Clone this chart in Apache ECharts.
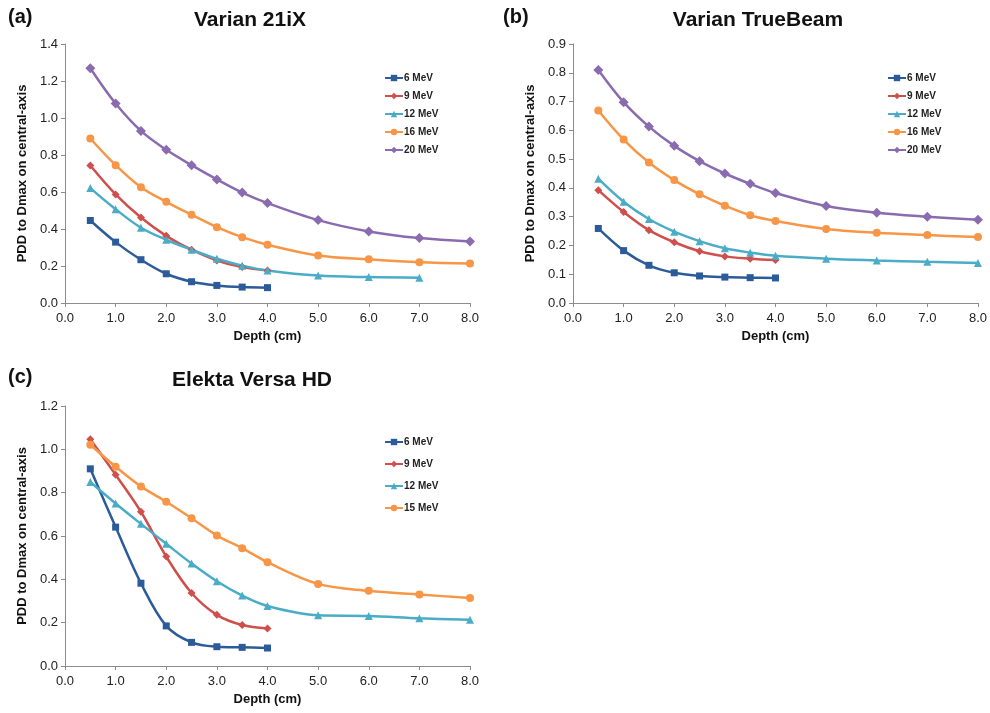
<!DOCTYPE html>
<html>
<head>
<meta charset="utf-8">
<script src="https://cdn.jsdelivr.net/npm/echarts@6/dist/echarts.min.js"></script>
<style>
  body { margin: 0; background: #fff; }
  .panel { position: absolute; }
</style>
</head>
<body>
<div id="chartA" class="panel" style="left:0;top:0;width:495px;height:350px;"></div>
<div id="chartB" class="panel" style="left:495px;top:0;width:495px;height:350px;"></div>
<div id="chartC" class="panel" style="left:0;top:360px;width:495px;height:353px;"></div>
<script>
// depths (cm)
var depthShort = [0.5, 1.0, 1.5, 2.0, 2.5, 3.0, 3.5, 4.0];
var depthMid = [0.5, 1.0, 1.5, 2.0, 2.5, 3.0, 3.5, 4.0, 5.0, 6.0, 7.0];
var depthLong = [0.5, 1.0, 1.5, 2.0, 2.5, 3.0, 3.5, 4.0, 5.0, 6.0, 7.0, 8.0];

// (a) Varian 21iX
var a6 = [0.446, 0.329, 0.234, 0.158, 0.115, 0.095, 0.086, 0.083];
var a9 = [0.743, 0.587, 0.462, 0.363, 0.288, 0.230, 0.194, 0.176];
var a12 = [0.621, 0.507, 0.407, 0.342, 0.288, 0.239, 0.202, 0.176, 0.148, 0.140, 0.137];
var a16 = [0.889, 0.745, 0.626, 0.547, 0.477, 0.410, 0.356, 0.315, 0.257, 0.236, 0.220, 0.214];
var a20 = [1.269, 1.078, 0.930, 0.828, 0.745, 0.668, 0.597, 0.540, 0.448, 0.387, 0.351, 0.333];

// (b) Varian TrueBeam
var b6 = [0.259, 0.182, 0.131, 0.105, 0.094, 0.090, 0.088, 0.087];
var b9 = [0.392, 0.316, 0.253, 0.211, 0.180, 0.162, 0.154, 0.149];
var b12 = [0.432, 0.352, 0.292, 0.248, 0.215, 0.190, 0.175, 0.164, 0.154, 0.148, 0.143, 0.139];
var b16 = [0.669, 0.568, 0.488, 0.427, 0.378, 0.338, 0.305, 0.285, 0.257, 0.244, 0.236, 0.229];
var b20 = [0.810, 0.698, 0.613, 0.546, 0.493, 0.450, 0.414, 0.382, 0.337, 0.314, 0.300, 0.289];

// (c) Elekta Versa HD
var c6 = [0.910, 0.641, 0.382, 0.185, 0.109, 0.089, 0.086, 0.083];
var c9 = [1.047, 0.883, 0.712, 0.505, 0.337, 0.236, 0.189, 0.173];
var c12 = [0.849, 0.750, 0.656, 0.564, 0.473, 0.391, 0.325, 0.277, 0.234, 0.231, 0.220, 0.213];
var c15 = [1.021, 0.920, 0.829, 0.758, 0.682, 0.602, 0.544, 0.479, 0.379, 0.347, 0.330, 0.314];

var colors = {
  blue: '#2c5b9a',
  red: '#cf4f4c',
  aqua: '#4aacc6',
  orange: '#f79646',
  purple: '#8a6bb0'
};

function pairs(xs, ys) {
  return ys.map(function (v, i) { return [xs[i], v]; });
}

function line(name, xs, ys, color, symbol, size) {
  return {
    name: name,
    type: 'line',
    smooth: 0.35,
    data: pairs(xs, ys),
    symbol: symbol,
    symbolSize: size,
    showSymbol: true,
    lineStyle: { color: color, width: 2.5 },
    itemStyle: { color: color },
    emphasis: { disabled: true },
    z: 2
  };
}

function makeOption(tag, title, titleX, grid, yMax, yStep, legendPos, legendGap, series) {
  return {
    animation: false,
    textStyle: { fontFamily: 'Liberation Sans, Arial, sans-serif' },
    title: [
      { text: tag, left: 8, top: 7, padding: 0, textStyle: { fontSize: 20, fontWeight: 'bold', color: '#111' } },
      { text: title, left: titleX, top: 10, padding: 0, textAlign: 'center', textStyle: { fontSize: 21, fontWeight: 'bold', color: '#111' } }
    ],
    legend: {
      orient: 'vertical',
      left: legendPos[0],
      top: legendPos[1],
      itemWidth: 18,
      itemHeight: 8,
      itemGap: legendGap,
      textStyle: { fontSize: 10, fontWeight: 'bold', color: '#222', padding: [0, 0, 0, -4] },
      data: series.map(function (s) { return s.name; })
    },
    grid: grid,
    xAxis: {
      type: 'value',
      min: 0,
      max: 8,
      interval: 1,
      name: 'Depth (cm)',
      nameLocation: 'middle',
      nameGap: 18,
      nameTextStyle: { fontSize: 13, fontWeight: 'bold', color: '#111' },
      axisLine: { lineStyle: { color: '#8c8c8c', width: 1 } },
      axisTick: { show: true, length: 4, lineStyle: { color: '#8c8c8c' } },
      axisLabel: { fontSize: 13, color: '#222', margin: 9, formatter: function (v) { return v.toFixed(1); } },
      splitLine: { show: false }
    },
    yAxis: {
      type: 'value',
      min: 0,
      max: yMax,
      interval: yStep,
      name: 'PDD to Dmax on central-axis',
      nameLocation: 'middle',
      nameGap: 35,
      nameTextStyle: { fontSize: 13, fontWeight: 'bold', color: '#111' },
      axisLine: { show: true, lineStyle: { color: '#8c8c8c', width: 1 } },
      axisTick: { show: true, length: 4, lineStyle: { color: '#8c8c8c' } },
      axisLabel: { fontSize: 13, color: '#222', margin: 7, formatter: function (v) { return v.toFixed(1); } },
      splitLine: { show: false }
    },
    series: series
  };
}

var chartA = echarts.init(document.getElementById('chartA'));
chartA.setOption(makeOption('(a)', 'Varian 21iX', 250,
  { left: 65, top: 44, width: 405, height: 259 }, 1.4, 0.2, [379, 68], 8, [
    line('6 MeV', depthShort, a6, colors.blue, 'rect', 7),
    line('9 MeV', depthShort, a9, colors.red, 'diamond', 8),
    line('12 MeV', depthMid, a12, colors.aqua, 'triangle', 8),
    line('16 MeV', depthLong, a16, colors.orange, 'circle', 8),
    line('20 MeV', depthLong, a20, colors.purple, 'diamond', 10)
  ]));

var chartB = echarts.init(document.getElementById('chartB'));
chartB.setOption(makeOption('(b)', 'Varian TrueBeam', 263,
  { left: 78, top: 44, width: 405, height: 259 }, 0.9, 0.1, [387, 68], 8, [
    line('6 MeV', depthShort, b6, colors.blue, 'rect', 7),
    line('9 MeV', depthShort, b9, colors.red, 'diamond', 8),
    line('12 MeV', depthLong, b12, colors.aqua, 'triangle', 8),
    line('16 MeV', depthLong, b16, colors.orange, 'circle', 8),
    line('20 MeV', depthLong, b20, colors.purple, 'diamond', 10)
  ]));

var chartC = echarts.init(document.getElementById('chartC'));
chartC.setOption(makeOption('(c)', 'Elekta Versa HD', 252,
  { left: 65, top: 46, width: 405, height: 260 }, 1.2, 0.2, [379, 72], 12, [
    line('6 MeV', depthShort, c6, colors.blue, 'rect', 7),
    line('9 MeV', depthShort, c9, colors.red, 'diamond', 8),
    line('12 MeV', depthLong, c12, colors.aqua, 'triangle', 8),
    line('15 MeV', depthLong, c15, colors.orange, 'circle', 8)
  ]));
</script>
</body>
</html>
